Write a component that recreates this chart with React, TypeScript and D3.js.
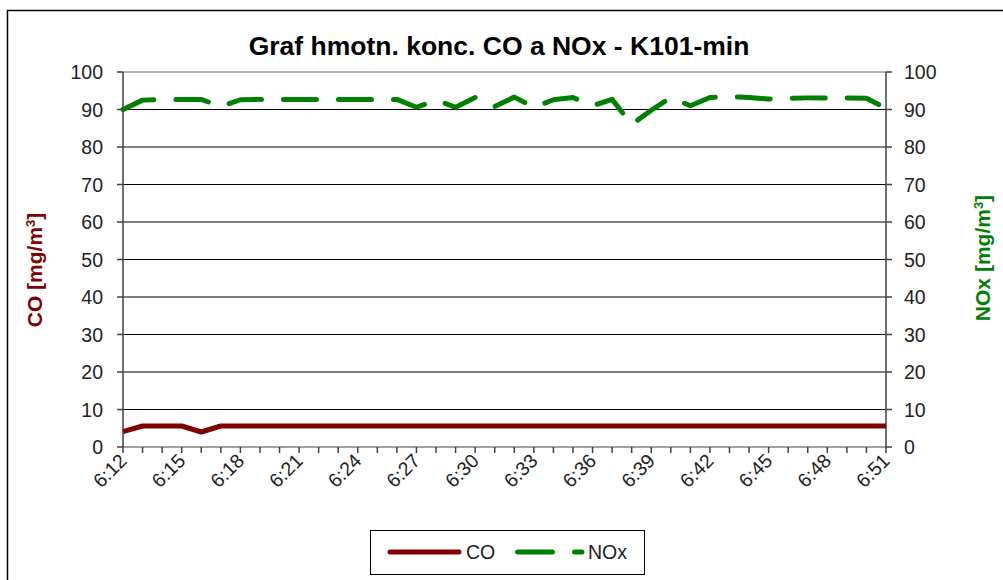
import React from "react";
import * as d3 from "d3";

const times: string[] = Array.from({ length: 40 }, (_, i) => {
  const m = 12 + i;
  return `6:${String(m).padStart(2, "0")}`;
});

const coValues: number[] = [
  4.1, 5.6, 5.6, 5.6, 4.0, 5.6, 5.6, 5.6, 5.6, 5.6,
  5.6, 5.6, 5.6, 5.6, 5.6, 5.6, 5.6, 5.6, 5.6, 5.6,
  5.6, 5.6, 5.6, 5.6, 5.6, 5.6, 5.6, 5.6, 5.6, 5.6,
  5.6, 5.6, 5.6, 5.6, 5.6, 5.6, 5.6, 5.6, 5.6, 5.6,
];

const noxValues: number[] = [
  90.0, 92.5, 92.7, 92.7, 92.7, 90.8, 92.6, 92.7, 92.7, 92.7,
  92.7, 92.7, 92.7, 92.7, 92.7, 90.6, 92.5, 90.6, 93.2, 90.8,
  93.3, 90.6, 92.6, 93.2, 91.0, 92.7, 86.0, 89.8, 93.2, 91.0,
  93.2, 93.4, 93.2, 92.8, 93.0, 93.1, 93.1, 93.1, 93.0, 90.3,
];

const yTicks: number[] = [0, 10, 20, 30, 40, 50, 60, 70, 80, 90, 100];

const titleText = "Graf hmotn. konc. CO a NOx - K101-min";

export default function App() {
  const W = 1003;
  const H = 580;
  const left = 123;
  const right = 886;
  const top = 72;
  const bottom = 447;
  const font = "'Liberation Sans', Arial, sans-serif";
  const tickFs = 19.5;

  const x = d3.scalePoint<string>().domain(times).range([left, right]);
  const y = d3.scaleLinear().domain([0, 100]).range([bottom, top]);

  const line = d3
    .line<number>()
    .x((_, i) => x(times[i]) as number)
    .y((d) => y(d));

  const labelTimes = times.filter((_, i) => i % 3 === 0);

  return (
    <svg
      width={W}
      height={H}
      style={{ position: "absolute", left: 0, top: 0, background: "#fff" }}
      fontFamily={font}
    >
      <rect x={7.5} y={10.5} width={1020} height={620} fill="#fff" stroke="#000" strokeWidth={1.5} />
      <text x={499} y={55} textAnchor="middle" fontSize={26.5} fontWeight="bold" fill="#000">
        {titleText}
      </text>

      {/* gridlines */}
      {yTicks.map((t) => (
        <line
          key={"g" + t}
          x1={left}
          x2={right}
          y1={y(t)}
          y2={y(t)}
          stroke={t === 100 ? "#9a9a9a" : t === 0 ? "#404040" : "#000"}
          strokeWidth={t === 100 ? 1.5 : 1}
        />
      ))}

      {/* left axis */}
      <line x1={left} x2={left} y1={top} y2={bottom} stroke="#404040" strokeWidth={1.5} />
      {yTicks.map((t) => (
        <g key={"l" + t}>
          <line x1={left - 6} x2={left} y1={y(t)} y2={y(t)} stroke="#404040" strokeWidth={1.5} />
          <text x={left - 20} y={y(t)} dy="0.36em" textAnchor="end" fontSize={tickFs} fill="#222">
            {t}
          </text>
        </g>
      ))}

      {/* right axis */}
      <line x1={right} x2={right} y1={top} y2={bottom} stroke="#404040" strokeWidth={1.5} />
      {yTicks.map((t) => (
        <g key={"r" + t}>
          <line x1={right} x2={right + 6} y1={y(t)} y2={y(t)} stroke="#404040" strokeWidth={1.5} />
          <text x={right + 18} y={y(t)} dy="0.36em" textAnchor="start" fontSize={tickFs} fill="#222">
            {t}
          </text>
        </g>
      ))}

      {/* x ticks */}
      {times.map((t) => (
        <line
          key={"xt" + t}
          x1={x(t)}
          x2={x(t)}
          y1={bottom}
          y2={bottom + 6}
          stroke="#404040"
          strokeWidth={1.5}
        />
      ))}
      {labelTimes.map((t) => (
        <text
          key={"xl" + t}
          transform={`translate(${(x(t) as number) + 5},${bottom + 15}) rotate(-45)`}
          textAnchor="end"
          fontSize={tickFs}
          fill="#222"
        >
          {t}
        </text>
      ))}

      {/* axis titles */}
      <text
        transform={`translate(42,270) rotate(-90)`}
        textAnchor="middle"
        fontSize={21}
        fontWeight="bold"
        fill="#800000"
      >
        CO [mg/m<tspan dy="-7" fontSize={13}>3</tspan>
        <tspan dy="7">]</tspan>
      </text>
      <text
        transform={`translate(990,258) rotate(-90)`}
        textAnchor="middle"
        fontSize={21}
        fontWeight="bold"
        fill="#008000"
      >
        NOx [mg/m<tspan dy="-7" fontSize={13}>3</tspan>
        <tspan dy="7">]</tspan>
      </text>

      {/* series */}
      <path
        d={line(coValues) || ""}
        fill="none"
        stroke="#800000"
        strokeWidth={5}
        strokeLinejoin="round"
      />
      <path
        d={line(noxValues) || ""}
        fill="none"
        stroke="#008000"
        strokeWidth={5}
        strokeDasharray="33 22"
        strokeLinecap="round"
        strokeLinejoin="round"
      />

      {/* legend */}
      <rect x={370.5} y={530.5} width={274} height={44} fill="#fff" stroke="#000" strokeWidth={1} />
      <line x1={390} x2={459} y1={552} y2={552} stroke="#800000" strokeWidth={5} strokeLinecap="round" />
      <text x={466} y={552} dy="0.36em" fontSize={tickFs} fill="#222">CO</text>
      <line x1={517.5} x2={582} y1={552} y2={552} stroke="#008000" strokeWidth={5} strokeDasharray="35 22" strokeLinecap="round" />
      <text x={588} y={552} dy="0.36em" fontSize={tickFs} fill="#222">NOx</text>
    </svg>
  );
}
